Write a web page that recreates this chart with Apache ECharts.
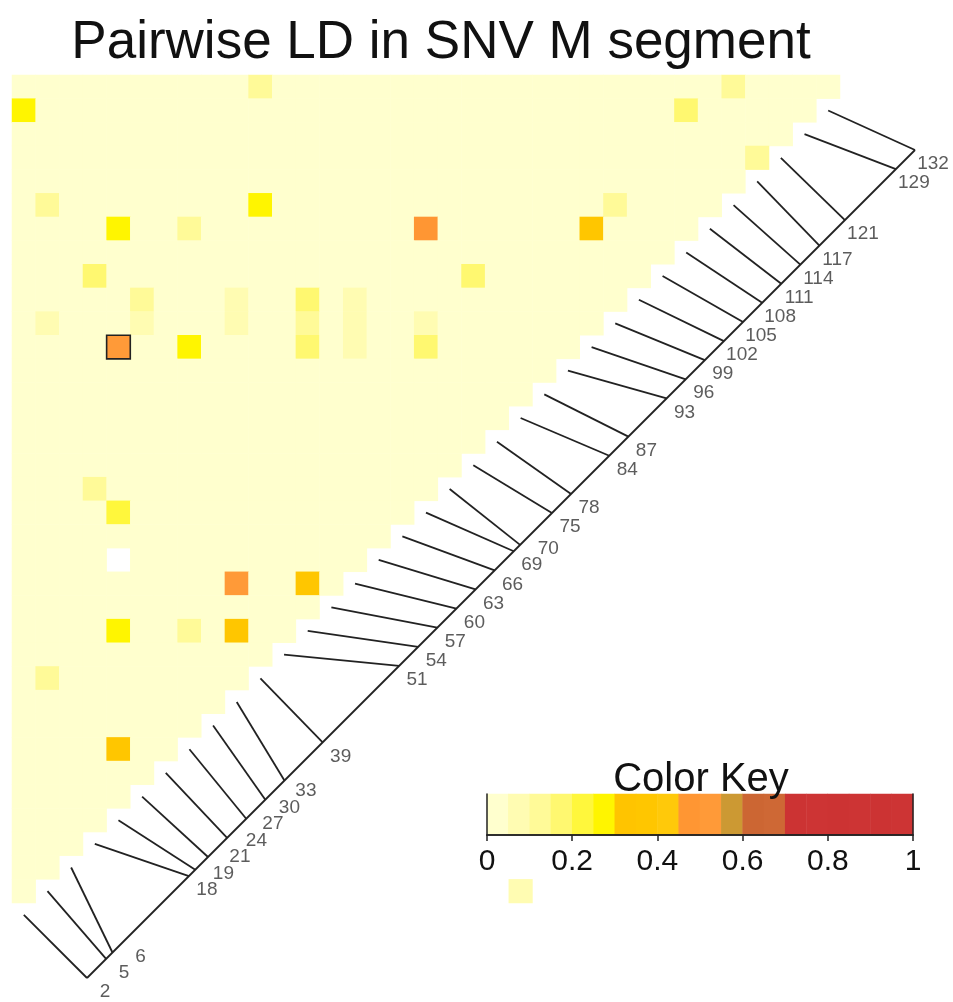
<!DOCTYPE html>
<html><head><meta charset="utf-8">
<script src="https://cdn.jsdelivr.net/npm/echarts@6/dist/echarts.min.js"></script>
<style>html,body{margin:0;padding:0;background:#fff}#c{width:953px;height:1002px}</style>
</head><body><div id="c"></div>
<script>
// ---- data ----
const snpPositions = [2,5,6,18,19,21,24,27,30,33,39,51,54,57,60,63,66,69,70,75,78,84,87,93,96,99,102,105,108,111,114,117,121,129,132];
const gridSize = 35;              // rows / columns of the triangle
const backgroundLD = 0.02;        // the pale near-zero cells
const missingCells = [[4,20]];    // NA (white)
// [column, row, r^2]
const ldCells = [
  [10,0,0.12],[30,0,0.12],[0,1,0.27],[28,1,0.18],[31,3,0.14],
  [1,5,0.12],[10,5,0.27],[25,5,0.12],
  [4,6,0.27],[7,6,0.12],[17,6,0.48],[24,6,0.37],
  [3,8,0.18],[19,8,0.17],
  [5,9,0.14],[9,9,0.08],[12,9,0.16],[14,9,0.08],
  [1,10,0.08],[5,10,0.08],[9,10,0.08],[12,10,0.1],[14,10,0.08],[17,10,0.08],
  [4,11,0.5],[7,11,0.27],[12,11,0.17],[14,11,0.08],[17,11,0.16],
  [3,17,0.12],[4,18,0.2],
  [9,21,0.5],[12,21,0.38],
  [4,23,0.26],[7,23,0.12],[9,23,0.38],
  [1,25,0.12],[4,28,0.38],
  [21,34,0.06]
];
const highlightCells = [[4,11]];
const keyBreaks = [0,0.05,0.1,0.15,0.2,0.25,0.3,0.35,0.4,0.45,0.5,0.55,0.6,0.65,0.7,0.75,0.8,0.85,0.9,0.95,1];
const keyColors = ['#FFFFCE','#FFFCB2','#FFFA98','#FFF870','#FFF73C','#FFF500','#FFC400','#FFC600','#FFC90A','#FF9633','#FF9A38','#CC9933','#CC6633','#CE6835','#CC3333','#CD3434','#CC3333','#CD3434','#CC3333','#CD3434'];
const keyTicks = [0,0.2,0.4,0.6,0.8,1];

// ---- layout ----
const FONT = 'Liberation Sans, Arial, sans-serif';
const gx = 12, gy = 75, gw = 828;
const cw = gw / gridSize;
const ovMaxX = 39.5, ovMaxY = 38.9;
const mapStartX = 3.17, mapSum = 41.34, mapLen = 35;
const labelSum = 42.69, labelShift = 18 / cw, labelGap = 16.5 / cw;

const missSet = new Set(missingCells.map(d => d[0] + ',' + d[1]));
const ldMap = new Map(ldCells.map(d => [d[0] + ',' + d[1], d[2]]));
const heatData = [];
for (let r = 0; r < gridSize; r++) {
  for (let c = 0; c < gridSize - r; c++) {
    const k = c + ',' + r;
    if (missSet.has(k)) continue;
    heatData.push([c, r, ldMap.has(k) ? ldMap.get(k) : backgroundLD]);
  }
}
ldCells.forEach(d => { if (d[0] + d[1] >= gridSize) heatData.push([d[0], d[1], d[2]]); });

const pMin = snpPositions[0], pMax = snpPositions[snpPositions.length - 1];
const mapX = p => mapStartX + mapLen * (p - pMin) / (pMax - pMin);
const lineData = [{coords: [[mapX(pMin), mapSum - mapX(pMin)], [mapX(pMax), mapSum - mapX(pMax)]]}];
snpPositions.forEach((p, i) => {
  lineData.push({coords: [[i + 0.5, gridSize + 0.5 - i], [mapX(p), mapSum - mapX(p)]]});
});
let prev = -Infinity;
const labelData = snpPositions.map(p => {
  let u = mapX(p) + labelShift;
  if (u < prev + labelGap) u = prev + labelGap;
  prev = u;
  return {name: String(p), value: [u, labelSum - u]};
});

const cats = Array.from({length: gridSize}, (_, i) => i);
const keyCats = keyColors.map((_, i) => i);
const keyData = keyCats.map(i => [i, 0, (keyBreaks[i] + keyBreaks[i + 1]) / 2]);
const pieces = keyColors.map((col, i) => i === keyColors.length - 1
  ? {gte: keyBreaks[i], lte: keyBreaks[i + 1], color: col}
  : {gte: keyBreaks[i], lt: keyBreaks[i + 1], color: col});

const chart = echarts.init(document.getElementById('c'), null, {renderer: 'canvas'});
const kx = 487, ky = 794, kw = 426, kh = 41;
const hidden = {show: false};
chart.setOption({
  animation: false,
  backgroundColor: '#fff',
  grid: [
    {left: gx, top: gy, width: gw, height: gw, outerBoundsMode: 'none', containLabel: false},
    {left: gx, top: gy, width: cw * ovMaxX, height: cw * ovMaxY, outerBoundsMode: 'none', containLabel: false},
    {left: kx, top: ky, width: kw, height: kh, outerBoundsMode: 'none', containLabel: false}
  ],
  xAxis: [
    {type: 'category', gridIndex: 0, data: cats, axisLine: hidden, axisTick: hidden, axisLabel: hidden, splitLine: hidden},
    {type: 'value', gridIndex: 1, min: 0, max: ovMaxX, axisLine: hidden, axisTick: hidden, axisLabel: hidden, splitLine: hidden},
    {type: 'category', gridIndex: 2, data: keyCats, position: 'top', z: 10,
     axisLine: {show: true, lineStyle: {color: '#222', width: 1.5}}, axisTick: hidden, axisLabel: hidden, splitLine: hidden},
    {type: 'value', gridIndex: 2, position: 'bottom', min: keyTicks[0], max: keyTicks[keyTicks.length - 1],
     interval: keyTicks[1] - keyTicks[0], z: 10,
     axisLine: {show: true, lineStyle: {color: '#222', width: 1.5}},
     axisTick: {show: true, length: 6, lineStyle: {color: '#222', width: 1.5}},
     axisLabel: {show: true, fontSize: 30, fontFamily: FONT, color: '#111', margin: 12,
                 formatter: v => String(keyTicks.find(t => Math.abs(t - v) < 1e-9) ?? v)},
     splitLine: hidden}
  ],
  yAxis: [
    {type: 'category', gridIndex: 0, data: cats, inverse: true, axisLine: hidden, axisTick: hidden, axisLabel: hidden, splitLine: hidden},
    {type: 'value', gridIndex: 1, min: 0, max: ovMaxY, inverse: true, axisLine: hidden, axisTick: hidden, axisLabel: hidden, splitLine: hidden},
    {type: 'category', gridIndex: 2, data: ['key'], position: 'left', z: 10,
     axisLine: {show: true, lineStyle: {color: '#222', width: 1.5}}, axisTick: hidden, axisLabel: hidden, splitLine: hidden},
    {type: 'value', gridIndex: 2, position: 'right', min: 0, max: 1, z: 10,
     axisLine: {show: true, lineStyle: {color: '#222', width: 1.5}}, axisTick: hidden, axisLabel: hidden, splitLine: hidden}
  ],
  visualMap: {type: 'piecewise', show: false, dimension: 2, seriesIndex: [0, 4], pieces: pieces},
  series: [
    {type: 'heatmap', xAxisIndex: 0, yAxisIndex: 0, data: heatData, silent: true, emphasis: {disabled: true}},
    {type: 'custom', xAxisIndex: 1, yAxisIndex: 1, data: highlightCells, silent: true, z: 5, clip: false,
     renderItem: (params, api) => {
       const p0 = api.coord([api.value(0), api.value(1)]);
       const p1 = api.coord([api.value(0) + 1, api.value(1) + 1]);
       return {type: 'rect', shape: {x: p0[0], y: p0[1], width: p1[0] - p0[0], height: p1[1] - p0[1]},
               style: {fill: null, stroke: '#222', lineWidth: 1.6}};
     }},
    {type: 'lines', coordinateSystem: 'cartesian2d', xAxisIndex: 1, yAxisIndex: 1, data: lineData, silent: true, clip: false,
     lineStyle: {color: '#222', width: 1.8, opacity: 1, curveness: 0}},
    {type: 'scatter', xAxisIndex: 1, yAxisIndex: 1, data: labelData, symbolSize: 1, silent: true, clip: false,
     itemStyle: {color: 'rgba(0,0,0,0)'},
     label: {show: true, position: 'inside', formatter: '{b}', fontSize: 19, fontFamily: FONT, color: '#333'}},
    {type: 'heatmap', xAxisIndex: 2, yAxisIndex: 2, data: keyData, silent: true, emphasis: {disabled: true}}
  ],
  graphic: [
    {type: 'text', x: 441, y: 43, z: 100,
     style: {text: 'Pairwise LD in SNV M segment', fontSize: 53, fontFamily: FONT, fill: '#111', align: 'center', verticalAlign: 'middle'}},
    {type: 'text', x: 701, y: 780, z: 100,
     style: {text: 'Color Key', fontSize: 40, fontFamily: FONT, fill: '#111', align: 'center', verticalAlign: 'middle'}}
  ]
});
</script></body></html>
